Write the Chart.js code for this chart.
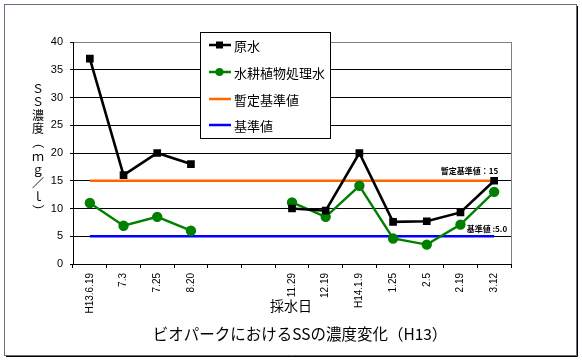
<!DOCTYPE html>
<html>
<head>
<meta charset="utf-8">
<script src="https://cdn.jsdelivr.net/npm/chart.js@4.4.1/dist/chart.umd.min.js"></script>
<style>
  body { margin: 0; background: #fff; }
  #wrap { position: relative; width: 582px; height: 360px; }
</style>
</head>
<body>
<div id="wrap"><canvas id="ssChart" width="582" height="360"></canvas></div>
<script>
// sampling dates (two blank slots between 8.20 and 11.29)
var dates = ["H13.6.19", "7.3", "7.25", "8.20", "", "", "11.29", "12.19", "H14.1.9", "1.25", "2.5", "2.19", "3.12"];
var rawWater = [37, 16, 20, 18, null, null, 10, 9.6, 20, 7.6, 7.7, 9.3, 15];
var treatedWater = [11, 6.9, 8.5, 6, null, null, 11.1, 8.5, 14.1, 4.6, 3.5, 7.1, 13];
var provisional = [15, 15, 15, 15, 15, 15, 15, 15, 15, 15, 15, 15, 15];
var standard = [5, 5, 5, 5, 5, 5, 5, 5, 5, 5, 5, 5, 5];
var yTicks = [0, 5, 10, 15, 20, 25, 30, 35, 40];

var jp = '"Noto Sans CJK JP", "Noto Sans", sans-serif';

var extras = {
    id: 'extras',
    beforeDraw: function (chart) {
        var c = chart.ctx;
        c.save();
        c.fillStyle = '#fff';
        c.fillRect(0, 0, 582, 360);
        // outer frame + shadow
        c.strokeStyle = '#000';
        c.lineWidth = 1;
        c.beginPath();
        c.moveTo(577.5, 6); c.lineTo(577.5, 356.5); c.lineTo(6, 356.5);
        c.stroke();
        c.strokeStyle = '#6b6b80';
        c.strokeRect(4.5, 4.5, 572, 351);
        c.restore();
    },
    afterDraw: function (chart) {
        var c = chart.ctx, a = chart.chartArea;
        var x = chart.scales.x, y = chart.scales.y;
        c.save();
        // plot border right in gray
        c.strokeStyle = '#808080';
        c.lineWidth = 1;
        c.beginPath();
        c.moveTo(Math.round(a.right) + 0.5, a.bottom);
        c.lineTo(Math.round(a.right) + 0.5, a.top);
        c.stroke();

        // y title, characters stacked
        var chars = ["Ｓ", "Ｓ", "濃", "度", "（", "ｍ", "ｇ", "／", "ｌ", "）"];
        c.fillStyle = '#000';
        c.font = '12px ' + jp;
        c.textAlign = 'center';
        c.textBaseline = 'middle';
        chars.forEach(function (ch, i) {
            var cy = 88 + i * 13.6;
            if (ch === '（' || ch === '）') {
                c.save();
                c.translate(38, cy);
                c.rotate(Math.PI / 2);
                c.fillText(ch, 0, 0);
                c.restore();
            } else {
                c.fillText(ch, 38, cy);
            }
        });

        // x title and chart title
        c.font = '14px ' + jp;
        c.fillText('採水日', 291, 306);
        c.font = '15.5px ' + jp;
        c.fillText('ビオパークにおけるSSの濃度変化（H13）', 300, 334);

        // reference line notes
        c.font = 'bold 8px ' + jp;
        c.textAlign = 'right';
        c.fillText('暫定基準値：15', x.getPixelForValue(12) + 4, y.getPixelForValue(15) - 10);
        c.fillText('基準値 :5.0', x.getPixelForValue(12) + 13, y.getPixelForValue(5) - 7);

        // legend box
        c.fillStyle = '#fff';
        c.fillRect(200, 32, 131, 107);
        c.strokeStyle = '#000';
        c.strokeRect(200.5, 32.5, 130, 106);
        var items = [
            { t: '原水', col: '#000', mk: 'sq', yy: 45 },
            { t: '水耕植物処理水', col: '#008000', mk: 'ci', yy: 72 },
            { t: '暫定基準値', col: '#ff6600', mk: null, yy: 99 },
            { t: '基準値', col: '#0000ff', mk: null, yy: 125 }
        ];
        c.textAlign = 'left';
        c.font = '13px ' + jp;
        items.forEach(function (it) {
            c.strokeStyle = it.col;
            c.lineWidth = 2.5;
            c.beginPath();
            c.moveTo(209, it.yy); c.lineTo(231, it.yy);
            c.stroke();
            c.fillStyle = it.col;
            if (it.mk === 'sq') c.fillRect(216, it.yy - 3.5, 7, 7);
            if (it.mk === 'ci') { c.beginPath(); c.arc(219.5, it.yy, 4, 0, Math.PI * 2); c.fill(); }
            c.fillStyle = '#000';
            c.fillText(it.t, 234, it.yy + 1);
        });
        c.restore();
    }
};

var ctx = document.getElementById('ssChart').getContext('2d');
new Chart(ctx, {
    type: 'line',
    data: {
        labels: dates,
        datasets: [
            {
                label: '原水',
                data: rawWater,
                borderColor: '#000',
                backgroundColor: '#000',
                borderWidth: 2.6,
                pointStyle: 'rect',
                pointRadius: 3.6,
                tension: 0
            },
            {
                label: '水耕植物処理水',
                data: treatedWater,
                borderColor: '#008000',
                backgroundColor: '#008000',
                borderWidth: 2.4,
                pointStyle: 'circle',
                pointRadius: 4,
                tension: 0
            },
            {
                label: '暫定基準値',
                data: provisional,
                borderColor: '#ff6600',
                borderWidth: 2.5,
                pointRadius: 0
            },
            {
                label: '基準値',
                data: standard,
                borderColor: '#0000ff',
                borderWidth: 2.5,
                pointRadius: 0
            }
        ]
    },
    options: {
        responsive: false,
        animation: false,
        events: [],
        layout: { padding: { left: 0, right: 71, top: 42, bottom: 0 } },
        plugins: { legend: { display: false }, title: { display: false }, tooltip: { enabled: false } },
        scales: {
            x: {
                offset: true,
                afterFit: function (s) { s.height = 96; },
                grid: { offset: true, drawOnChartArea: false, drawTicks: true, tickLength: 4, color: '#000' },
                border: { color: '#000', width: 1 },
                ticks: {
                    autoSkip: false,
                    maxRotation: 90,
                    minRotation: 90,
                    color: '#000',
                    padding: 5,
                    font: { family: '"Liberation Sans", Arial, sans-serif', size: 10 }
                }
            },
            y: {
                min: 0,
                max: 40,
                afterFit: function (s) { s.width = 73; },
                afterBuildTicks: function (s) { s.ticks = yTicks.map(function (v) { return { value: v }; }); },
                grid: {
                    color: function (c) { return c.tick && c.tick.value === 40 ? '#808080' : '#000'; },
                    tickLength: 3,
                    tickColor: '#000'
                },
                border: { color: '#000', width: 1 },
                ticks: {
                    color: '#000',
                    padding: 7,
                    font: { family: '"Liberation Sans", Arial, sans-serif', size: 11 }
                }
            }
        }
    },
    plugins: [extras]
});
</script>
</body>
</html>
